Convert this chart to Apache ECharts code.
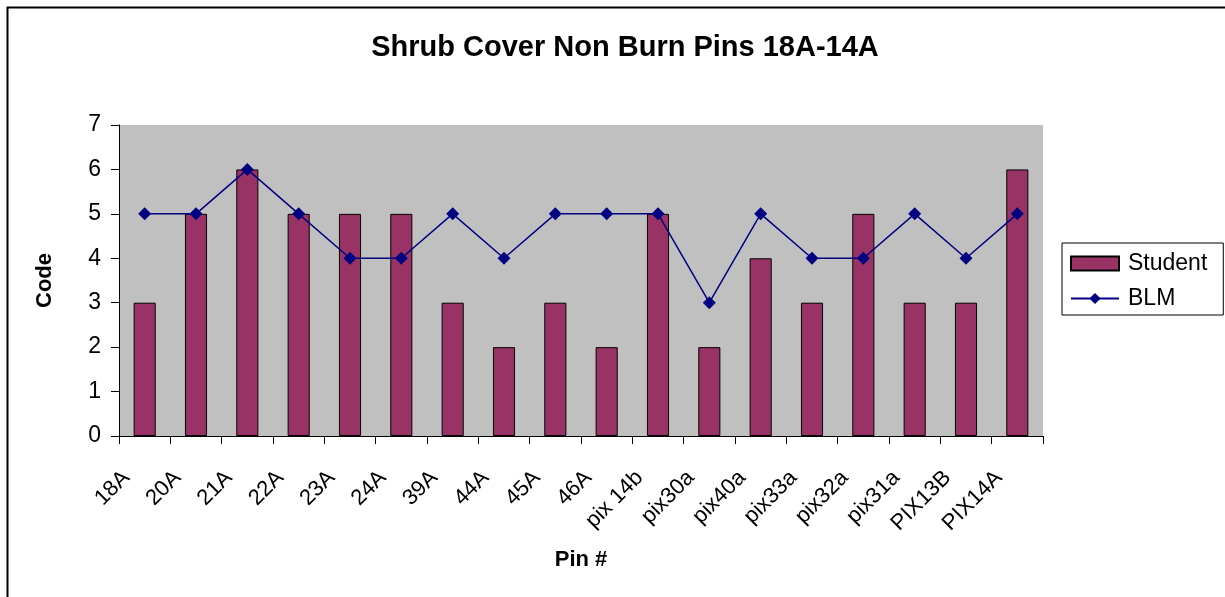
<!DOCTYPE html>
<html>
<head>
<meta charset="utf-8">
<script src="https://cdn.jsdelivr.net/npm/echarts@6/dist/echarts.min.js"></script>
<style>
html,body{margin:0;padding:0;background:#fff;}
#main{width:1225px;height:597px;}
</style>
</head>
<body>
<div id="main"></div>
<script>
const categories = ['18A','20A','21A','22A','23A','24A','39A','44A','45A','46A','pix 14b','pix30a','pix40a','pix33a','pix32a','pix31a','PIX13B','PIX14A'];
const studentValues = [3,5,6,5,5,5,3,2,3,2,5,2,4,3,5,3,3,6];
const blmValues = [5,5,6,5,4,4,5,4,5,5,5,3,5,4,4,5,4,5];
const yTicks = [0,1,2,3,4,5,6,7];

const font = 'Arial, "Liberation Sans", sans-serif';
const chart = echarts.init(document.getElementById('main'));
chart.setOption({
  backgroundColor: '#fff',
  animation: false,
  title: {
    text: 'Shrub Cover Non Burn Pins 18A-14A',
    left: 620, top: 28, textAlign: 'center',
    textStyle: {fontFamily: font, fontSize: 29, fontWeight: 'bold', color: '#000'}
  },
  graphic: [{
    type: 'rect', left: 5, top: 5, silent: true,
    shape: {width: 1240, height: 620},
    style: {fill: 'none', stroke: '#000', lineWidth: 2}
  }],
  legend: {
    left: 1062, top: 243, orient: 'vertical',
    padding: [9, 16, 5, 8],
    itemGap: 12,
    itemWidth: 48, itemHeight: 14,
    borderColor: '#000', borderWidth: 1,
    textStyle: {fontFamily: font, fontSize: 23, color: '#000', padding: [0, 0, 0, 4]},
    data: [{name: 'Student', icon: 'rect'}, 'BLM']
  },
  grid: {
    left: 119, right: 182, top: 125, bottom: 161,
    show: true, backgroundColor: '#C0C0C0', borderWidth: 0
  },
  xAxis: {
    type: 'category', data: categories,
    name: 'Pin #', nameLocation: 'middle', nameGap: 113,
    nameTextStyle: {fontFamily: font, fontSize: 22, fontWeight: 'bold', color: '#000'},
    axisLine: {lineStyle: {color: '#000', width: 1}},
    axisTick: {show: true, length: 8, lineStyle: {color: '#000'}},
    axisLabel: {rotate: 45, interval: 0, fontFamily: font, fontSize: 22, color: '#000', margin: 20, padding: [0, 26, 0, 0]},
    splitLine: {show: false}
  },
  yAxis: {
    type: 'value', min: 0, max: 7, interval: 1,
    name: 'Code', nameLocation: 'middle', nameGap: 63, nameRotate: 90,
    nameTextStyle: {fontFamily: font, fontSize: 22, fontWeight: 'bold', color: '#000'},
    axisLine: {show: true, lineStyle: {color: '#000', width: 1}},
    axisTick: {show: true, length: 8, lineStyle: {color: '#000'}},
    axisLabel: {fontFamily: font, fontSize: 23, color: '#000', margin: 18,
      formatter: v => yTicks.includes(v) ? String(v) : ''},
    splitLine: {show: false}
  },
  series: [{
    name: 'Student', type: 'bar', data: studentValues,
    barWidth: '43%',
    itemStyle: {color: '#993366', borderColor: '#000', borderWidth: 1}
  }, {
    name: 'BLM', type: 'line', data: blmValues,
    symbol: 'diamond', symbolSize: 13,
    lineStyle: {color: '#000080', width: 1.5},
    itemStyle: {color: '#000080'}
  }]
});
</script>
</body>
</html>
